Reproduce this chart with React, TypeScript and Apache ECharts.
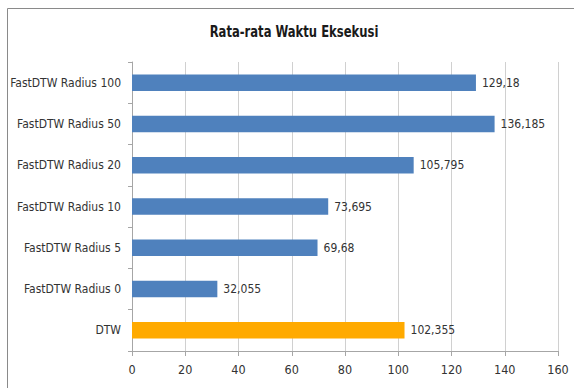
import React, { useEffect, useRef } from "react";
import * as echarts from "echarts";

const title = "Rata-rata Waktu Eksekusi";
const categories = [
  "DTW",
  "FastDTW Radius 0",
  "FastDTW Radius 5",
  "FastDTW Radius 10",
  "FastDTW Radius 20",
  "FastDTW Radius 50",
  "FastDTW Radius 100",
];
const values = [102.355, 32.055, 69.68, 73.695, 105.795, 136.185, 129.18];
const barColors = ["#FFAA00", "#4F81BD", "#4F81BD", "#4F81BD", "#4F81BD", "#4F81BD", "#4F81BD"];
const xMin = 0;
const xMax = 160;
const xStep = 20;

const FONT = "'Liberation Sans Narrow', 'DejaVu Sans Condensed', 'Open Sans', sans-serif";

export default function App() {
  const ref = useRef<HTMLDivElement>(null);

  useEffect(() => {
    document.body.style.margin = "0";
    const chart = echarts.init(ref.current!, null, { renderer: "svg" });
    chart.setOption({
      animation: false,
      backgroundColor: "#ffffff",
      textStyle: { fontFamily: FONT },
      graphic: [
        {
          type: "rect",
          shape: { x: 7.5, y: 8.5, width: 700, height: 500 },
          style: { fill: "none", stroke: "#8a8a8a", lineWidth: 1 },
          silent: true,
        },
        {
          // chart title, slightly condensed horizontally
          type: "text",
          x: 294,
          y: 32,
          scaleX: 0.86,
          style: {
            text: title,
            fontFamily: FONT,
            fontSize: 15,
            fontWeight: "bold",
            fill: "#1a1a1a",
            textAlign: "center",
            textVerticalAlign: "middle",
          },
          silent: true,
        },
      ],
      grid: { left: 132, right: 16, top: 62, bottom: 37, containLabel: false },
      xAxis: {
        type: "value",
        min: xMin,
        max: xMax,
        interval: xStep,
        axisLine: { show: true, lineStyle: { color: "#a6a6a6", width: 1 } },
        axisTick: { show: true, length: 5, lineStyle: { color: "#a6a6a6" } },
        axisLabel: { fontFamily: FONT, fontSize: 12.5, color: "#333333", margin: 12 },
        splitLine: { show: true, lineStyle: { color: "#d0d0d0", width: 1 } },
      },
      yAxis: {
        type: "category",
        data: categories,
        axisLine: { show: true, lineStyle: { color: "#a6a6a6", width: 1 } },
        axisTick: { show: true, length: 4, lineStyle: { color: "#a6a6a6" } },
        axisLabel: { fontFamily: FONT, fontSize: 12, color: "#333333", margin: 11 },
        splitLine: { show: false },
      },
      series: [
        {
          type: "bar",
          data: values.map((v, i) => ({ value: v, itemStyle: { color: barColors[i] } })),
          barCategoryGap: "60%",
          label: {
            show: true,
            position: "right",
            distance: 6,
            fontFamily: FONT,
            fontSize: 12,
            color: "#333333",
            formatter: (p: any) => String(p.value).replace(".", ","),
          },
        },
      ],
    });
    return () => chart.dispose();
  }, []);

  return <div ref={ref} style={{ width: 574, height: 388 }} />;
}
